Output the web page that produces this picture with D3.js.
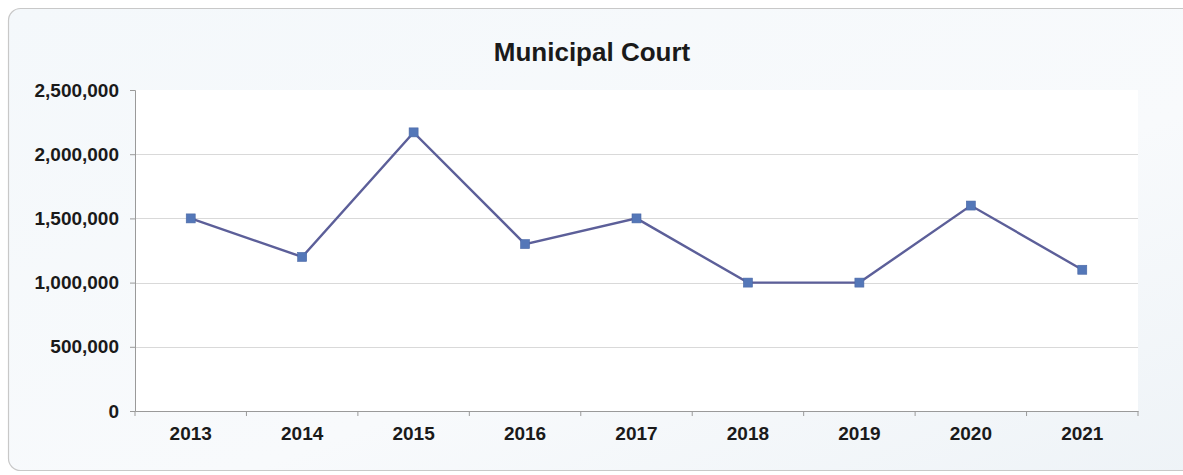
<!DOCTYPE html>
<html>
<head>
<meta charset="utf-8">
<script src="https://cdn.jsdelivr.net/npm/d3@7/dist/d3.min.js"></script>
<style>
  html, body { margin: 0; padding: 0; background: #ffffff; }
  svg { display: block; }
  text { font-family: "Liberation Sans", Arial, sans-serif; font-weight: bold; fill: #1a1a1a; }
</style>
</head>
<body>
<svg id="chart" width="1183" height="475"></svg>
<script>
// Annual totals for the Municipal Court
const years = ["2013", "2014", "2015", "2016", "2017", "2018", "2019", "2020", "2021"];
const amounts = [1500000, 1200000, 2170000, 1300000, 1500000, 1000000, 1000000, 1600000, 1100000];
const yTicks = [0, 500000, 1000000, 1500000, 2000000, 2500000];
const chartTitle = "Municipal Court";

const W = 1183, H = 475;
const margin = { top: 90, right: 45, bottom: 64, left: 135 };
const innerW = W - margin.left - margin.right;
const innerH = H - margin.top - margin.bottom;

const svg = d3.select("#chart");

// Panel background with soft blue tint
const defs = svg.append("defs");
const grad = defs.append("linearGradient").attr("id", "panelBg")
  .attr("x1", "0").attr("y1", "0").attr("x2", "1").attr("y2", "1");
grad.append("stop").attr("offset", "0%").attr("stop-color", "#f4f8fb");
grad.append("stop").attr("offset", "60%").attr("stop-color", "#f8fafc");
grad.append("stop").attr("offset", "100%").attr("stop-color", "#eef3f7");

svg.append("rect")
  .attr("x", 8.5).attr("y", 8.5)
  .attr("width", W + 20).attr("height", 462)
  .attr("rx", 12).attr("ry", 12)
  .attr("fill", "url(#panelBg)")
  .attr("stroke", "#c8c8c8").attr("stroke-width", 1.2);

const g = svg.append("g").attr("transform", `translate(${margin.left},${margin.top})`);

const x = d3.scaleBand().domain(years).range([0, innerW]);
const y = d3.scaleLinear().domain([0, 2500000]).range([innerH, 0]);

// Plot area
g.append("rect")
  .attr("width", innerW).attr("height", innerH)
  .attr("fill", "#ffffff");

// Horizontal gridlines
g.append("g")
  .selectAll("line")
  .data(yTicks.filter(d => d > 0 && d < 2500000))
  .join("line")
  .attr("x1", 0).attr("x2", innerW)
  .attr("y1", d => Math.round(y(d)) + 0.5).attr("y2", d => Math.round(y(d)) + 0.5)
  .attr("stroke", "#d9d9d9").attr("stroke-width", 1);

// Y axis
const fmt = d3.format(",");
const yAxis = g.append("g")
  .call(d3.axisLeft(y).tickValues(yTicks).tickFormat(fmt).tickSize(5).tickPadding(11));
yAxis.select(".domain").attr("stroke", "#9a9a9a");
yAxis.selectAll(".tick line").attr("stroke", "#9a9a9a");
yAxis.selectAll("text").attr("font-size", 19).style("font-weight", "bold").attr("fill", "#1a1a1a");

// X axis with ticks between categories
const xAxis = g.append("g").attr("transform", `translate(0,${innerH})`)
  .call(d3.axisBottom(x).tickSize(0).tickPadding(16));
xAxis.select(".domain").attr("stroke", "#9a9a9a");
xAxis.selectAll("text").attr("font-size", 19).style("font-weight", "bold").attr("fill", "#1a1a1a");
xAxis.append("g")
  .selectAll("line")
  .data(d3.range(years.length + 1))
  .join("line")
  .attr("x1", i => i * x.bandwidth()).attr("x2", i => i * x.bandwidth())
  .attr("y1", 0).attr("y2", 5)
  .attr("stroke", "#9a9a9a");

// Series line
const cx = d => x(d) + x.bandwidth() / 2;
const line = d3.line()
  .x((d, i) => cx(years[i]))
  .y(d => y(d));

g.append("path")
  .datum(amounts)
  .attr("d", line)
  .attr("fill", "none")
  .attr("stroke", "#5c5f99")
  .attr("stroke-width", 2.4);

// Square markers
const ms = 9;
g.append("g")
  .selectAll("rect")
  .data(amounts)
  .join("rect")
  .attr("x", (d, i) => cx(years[i]) - ms / 2)
  .attr("y", d => y(d) - ms / 2)
  .attr("width", ms).attr("height", ms)
  .attr("fill", "#5477b8")
  .attr("stroke", "#4a68a6").attr("stroke-width", 0.6);

// Title
svg.append("text")
  .attr("x", 592).attr("y", 61)
  .attr("text-anchor", "middle")
  .attr("font-size", 26)
  .text(chartTitle);
</script>
</body>
</html>
